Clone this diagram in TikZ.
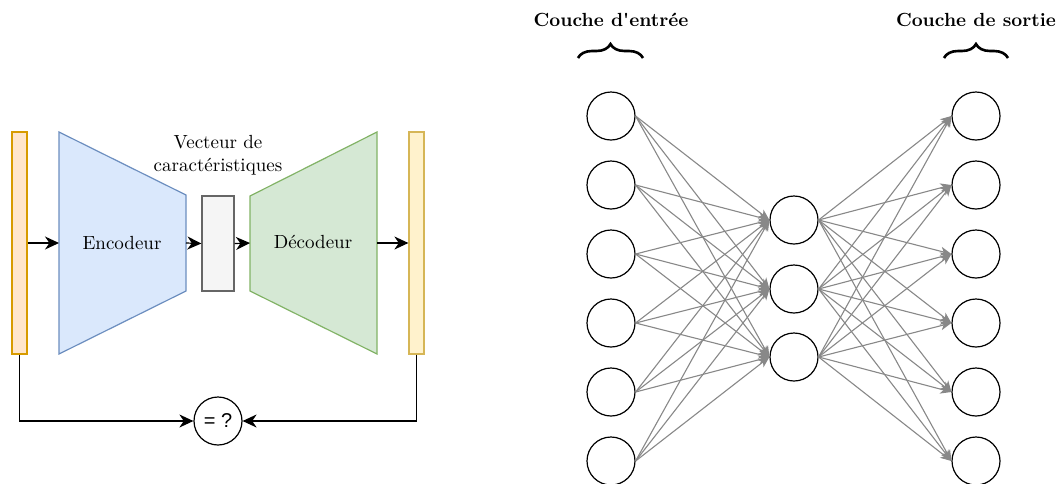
\documentclass[tikz,border=0pt]{standalone}
\usepackage{fontspec}
\newfontfamily\sansf{Liberation Sans}
\usetikzlibrary{arrows.meta,decorations.pathreplacing,calc}
\definecolor{inFill}{HTML}{FFE6CC}\definecolor{inLine}{HTML}{D79B00}
\definecolor{outFill}{HTML}{FFF2CC}\definecolor{outLine}{HTML}{D6B656}
\definecolor{encFill}{HTML}{DAE8FC}\definecolor{encLine}{HTML}{6C8EBF}
\definecolor{decFill}{HTML}{D5E8D4}\definecolor{decLine}{HTML}{82B366}
\definecolor{featFill}{HTML}{F5F5F5}\definecolor{featLine}{HTML}{666666}
\definecolor{edgeGray}{HTML}{888888}
\begin{document}
\begin{tikzpicture}[x=0.5pt,y=-0.5pt,font=\fontsize{9.5}{11.5}\selectfont,
  bar/.style={rectangle,draw,line width=0.6pt,minimum width=7.5pt,minimum height=111pt,inner sep=0pt},
  arr/.style={draw=black,line width=0.6pt,-{Stealth[length=7pt,width=6.5pt,inset=2.2pt]}},
  neuron/.style={circle,draw=black,line width=0.6pt,minimum size=24pt,inner sep=0pt},
  netedge/.style={draw=edgeGray,line width=0.55pt,-{Stealth[length=5.5pt,width=4.5pt,inset=1.5pt]}},
  brc/.style={decorate,decoration={brace,amplitude=7pt},line width=1.3pt},
  title/.style={font=\fontsize{9.5}{11.5}\selectfont\bfseries}]
\useasboundingbox (0,0) rectangle (1056,483);
% left part
\node[bar,fill=inFill,draw=inLine] (inp) at (19.5,243) {};
\node[bar,fill=outFill,draw=outLine] (outp) at (416.5,243) {};
\draw[fill=encFill,draw=encLine,line width=0.6pt] (59,132) -- (186,195) -- (186,291) -- (59,354) -- cycle;
\draw[fill=decFill,draw=decLine,line width=0.6pt] (250,196) -- (377,132) -- (377,354) -- (250,291) -- cycle;
\coordinate (encin) at (59,243);
\coordinate (encout) at (186,243);
\coordinate (decin) at (250,243);
\coordinate (decout) at (377,243);
\node (enclab) at (122,243) {Encodeur};
\node (declab) at (313,242) {Décodeur};
\node[rectangle,draw=featLine,fill=featFill,line width=0.6pt,minimum width=16pt,minimum height=47.5pt,inner sep=0pt] (feat) at (218,243.5) {};
\node[align=center,inner sep=0pt] (featlab) at (218,155) {Vecteur de\\caractéristiques};
\node[circle,draw=black,line width=0.6pt,minimum size=24pt,inner sep=0pt,font=\sansf\fontsize{10}{12}\selectfont] (cmp) at (218,421) {= ?};
\draw[arr] (inp.east) -- (encin);
\draw[arr] (encout) -- (feat.west);
\draw[arr] (feat.east) -- (decin);
\draw[arr] (decout) -- (outp.west);
\draw[arr] (inp.south) |- (cmp.west);
\draw[arr] (outp.south) |- (cmp.east);
% right part
\foreach \i/\y in {1/116,2/185,3/254,4/323,5/392,6/461}{
  \node[neuron] (i\i) at (611,\y) {};
  \node[neuron] (o\i) at (976,\y) {};
}
\foreach \j/\y in {1/220,2/289,3/357}{
  \node[neuron] (h\j) at (794,\y) {};
}
\foreach \i in {1,...,6}{
  \foreach \j in {1,2,3}{
    \draw[netedge] (i\i.east) -- (h\j.west);
    \draw[netedge] (h\j.east) -- (o\i.west);
  }
}
\node[title] (tin) at (611,20) {Couche d\textquotesingle entrée};
\node[title] (tout) at (976,20) {Couche de sortie};
\draw[brc] (578,58) -- (643,58);
\draw[brc] (944,58) -- (1008,58);
\end{tikzpicture}
\end{document}
